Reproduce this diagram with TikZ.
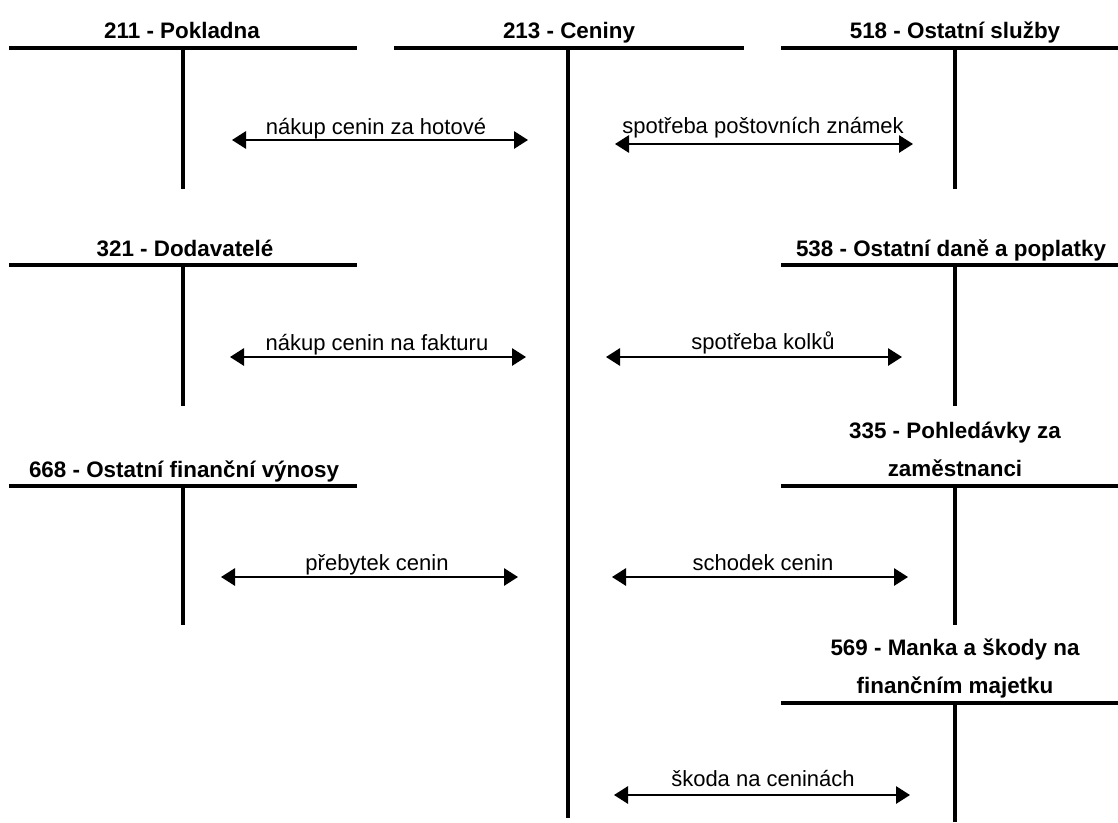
\documentclass[tikz,border=0pt]{standalone}
\usepackage{fontspec}
\setmainfont{Liberation Sans}
\usetikzlibrary{arrows.meta}

\begin{document}
\begin{tikzpicture}[x=0.75pt,y=-0.75pt,
  acct/.style={line width=2.3pt},
  tok/.style={line width=1.4pt,{Triangle[length=10.5pt,width=13pt]}-{Triangle[length=10.5pt,width=13pt]}},
  title/.style={font=\fontsize{16.8}{28.5}\selectfont\bfseries,anchor=base,inner sep=0pt,align=center},
  txt/.style={font=\fontsize{16.5}{20}\selectfont,anchor=base,inner sep=0pt}]
\useasboundingbox (0,0) rectangle (1118,822);

% 211 - Pokladna
\node[title] (pokladna) at (182,38) {211 - Pokladna};
\draw[acct] (9,48) -- (357,48);
\draw[acct] (183,48) -- (183,189);
% 213 - Ceniny
\node[title] (ceniny) at (569,38) {213 - Ceniny};
\draw[acct] (394,48) -- (744,48);
\draw[acct] (568,48) -- (568,818);
% 518 - Ostatni sluzby
\node[title] (sluzby) at (955,38) {518 - Ostatní služby};
\draw[acct] (781,48) -- (1118,48);
\draw[acct] (955,48) -- (955,189);

% 321 - Dodavatele
\node[title] (dodavatele) at (185,256) {321 - Dodavatelé};
\draw[acct] (9,265) -- (357,265);
\draw[acct] (183,265) -- (183,406);
% 538 - Ostatni dane a poplatky
\node[title] (dane) at (951,256) {538 - Ostatní daně a poplatky};
\draw[acct] (781,265) -- (1118,265);
\draw[acct] (955,265) -- (955,406);

% 668 - Ostatni financni vynosy
\node[title] (vynosy) at (184,477) {668 - Ostatní finanční výnosy};
\draw[acct] (9,486) -- (357,486);
\draw[acct] (183,486) -- (183,625);
% 335 - Pohledavky za zamestnanci
\node[title] (pohledavky) at (955,476) {335 - Pohledávky za\\zaměstnanci};
\draw[acct] (781,486) -- (1118,486);
\draw[acct] (955,486) -- (955,625);

% 569 - Manka a skody
\node[title] (manka) at (955,693) {569 - Manka a škody na\\finančním majetku};
\draw[acct] (781,703) -- (1118,703);
\draw[acct] (955,703) -- (955,822);

% arrow ends
\coordinate (hotove-l) at (232,140);   \coordinate (hotove-r) at (528,140);
\coordinate (znamky-l) at (615,144);   \coordinate (znamky-r) at (913,144);
\coordinate (faktura-l) at (230,357);  \coordinate (faktura-r) at (526,357);
\coordinate (kolky-l) at (606,357);    \coordinate (kolky-r) at (902,357);
\coordinate (prebytek-l) at (221,577); \coordinate (prebytek-r) at (518,577);
\coordinate (schodek-l) at (612,577);  \coordinate (schodek-r) at (908,577);
\coordinate (skoda-l) at (614,795);    \coordinate (skoda-r) at (910,795);

% arrows
\draw[tok] (hotove-l) -- (hotove-r);
\draw[tok] (znamky-l) -- (znamky-r);
\draw[tok] (faktura-l) -- (faktura-r);
\draw[tok] (kolky-l) -- (kolky-r);
\draw[tok] (prebytek-l) -- (prebytek-r);
\draw[tok] (schodek-l) -- (schodek-r);
\draw[tok] (skoda-l) -- (skoda-r);

% labels
\node[txt] (l-hotove) at (376,134) {nákup cenin za hotové};
\node[txt] (l-znamky) at (763,133) {spotřeba poštovních známek};
\node[txt] (l-faktura) at (377,350) {nákup cenin na fakturu};
\node[txt] (l-kolky) at (763,349) {spotřeba kolků};
\node[txt] (l-prebytek) at (377,570) {přebytek cenin};
\node[txt] (l-schodek) at (763,570) {schodek cenin};
\node[txt] (l-skoda) at (763,786) {škoda na ceninách};

\end{tikzpicture}
\end{document}
